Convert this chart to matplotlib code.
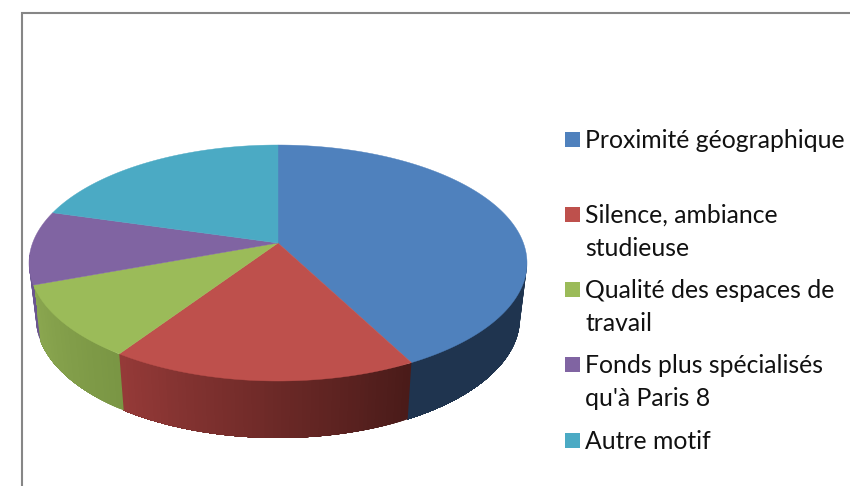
import matplotlib
matplotlib.use('Agg')
import matplotlib.pyplot as plt
import numpy as np
from matplotlib.patches import Rectangle
from matplotlib.colors import to_rgb

# donnees du camembert
labels = ['Proximité géographique', 'Silence, ambiance\nstudieuse',
          'Qualité des espaces de\ntravail', 'Fonds plus spécialisés\nqu\'à Paris 8', 'Autre motif']
values = [41, 20, 11, 10, 18]
colors = ['#4F81BD', '#BE504C', '#9BBB59', '#8064A2', '#4BAAC4']
# couleurs du flanc : gauche, droite (le flanc tourne dans le sens horaire)
side_right = ['#1F344F', '#4A1B19', '#7A9644', '#6A5590', '#3A8AA0']
side_left = ['#1F344F', '#953A38', '#8BA750', '#6A5590', '#3A8AA0']

plt.rcParams['font.family'] = ['Lato', 'DejaVu Sans']
fig = plt.figure(figsize=(8.5, 4.86), dpi=100)
ax = fig.add_axes([0, 0, 1, 1])
ax.set_xlim(0, 850)
ax.set_ylim(486, 0)
ax.axis('off')

# cadre gris (coupe a droite et en bas)
ax.plot([22, 22, 850], [486, 13, 13], color='#868686', lw=1.5, solid_joinstyle='miter')

# ellipse du dessus et du dessous
cx = 278
apex_y = 243
top_cy, top_rx, top_ry = 263, 249, 118
bot_cy, bot_rx, bot_ry = 318, 242, 120


def arc(a, cy, rx, ry):
    t = np.radians(a)
    return cx + rx * np.sin(t), cy - ry * np.cos(t)


edges = np.concatenate([[0], np.cumsum(values)]) / np.sum(values) * 360

# flancs d'abord : chaque bande va jusqu'au bout de la part, la suivante repeint par dessus
for i in range(len(values)):
    a0 = max(edges[i], 88)
    a1 = min(edges[i + 1], 274)
    if a1 <= a0:
        continue
    steps = np.linspace(a0, a1, int(a1 - a0) + 2)
    end = np.linspace(0, 1, 30)
    c_r = np.array(to_rgb(side_right[i]))
    c_l = np.array(to_rgb(side_left[i]))
    for j in range(len(steps) - 1):
        a = steps[j] + (a1 - steps[j]) * end
        xt, yt = arc(a, top_cy, top_rx, top_ry)
        xb, yb = arc(a[::-1], bot_cy, bot_rx, bot_ry)
        f = j / max(len(steps) - 2, 1)
        c = c_r + (c_l - c_r) * f
        ax.fill(np.r_[xt, xb], np.r_[yt, yb], color=c, lw=0, zorder=2 + i * 0.01)

# dessus
for i in range(len(values)):
    a = np.linspace(edges[i], edges[i + 1], 200)
    x, y = arc(a, top_cy, top_rx, top_ry)
    ax.fill(np.r_[cx, x], np.r_[apex_y, y], color=colors[i], lw=0.3, zorder=3)

# legende
legend_y = [132, 207, 282, 357, 433]
for i, lab in enumerate(labels):
    ax.add_patch(Rectangle((565, legend_y[i]), 15, 15, color=colors[i], lw=0))
    lines = lab.split('\n')
    for k, line in enumerate(lines):
        ax.text(585.5, legend_y[i] + 16 + k * 33, line, fontsize=17.8, color='#111111',
                ha='left', va='baseline')

fig.savefig('out.png', dpi=100)
